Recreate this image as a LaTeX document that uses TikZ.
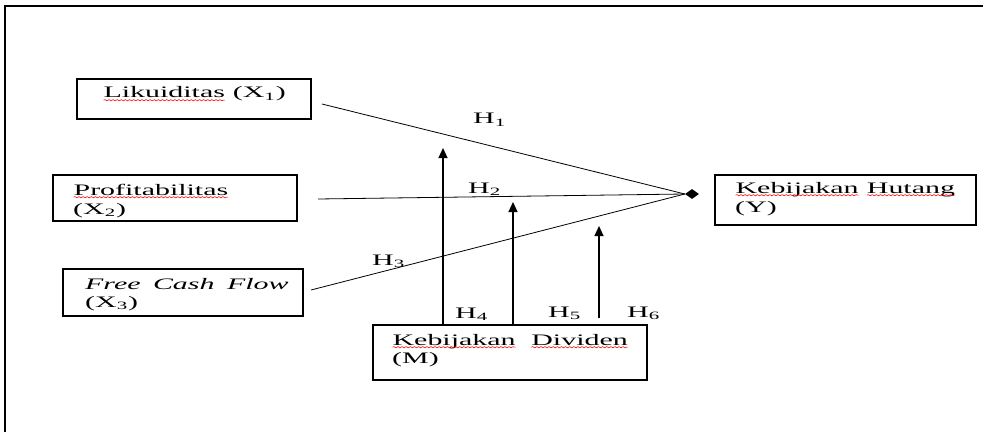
\documentclass[tikz,border=0pt]{standalone}
\usepackage{fontspec}
\setmainfont{Liberation Serif}
\usetikzlibrary{arrows.meta,decorations.pathmorphing,shapes.geometric}
\newcommand\sxt[1]{\scalebox{1.87}[1]{#1}}
\newcommand\sqw[1]{\tikz[baseline=(sqn.base)]{\node[inner sep=0pt,outer sep=0pt] (sqn) {#1};\draw[red,line width=0.45pt,decorate,decoration={snake,amplitude=0.6pt,segment length=2.2pt}] ([yshift=-2.2pt]sqn.base west) -- ([yshift=-2.2pt]sqn.base east);}}
\begin{document}
\begin{tikzpicture}[x=1pt,y=1pt,
  box/.style={draw,line width=1.6pt,inner sep=0pt},
  txt/.style={inner sep=0pt,anchor=base west,font=\fontsize{16}{19}\selectfont},
  conn/.style={line width=0.8pt},
  up/.style={line width=1.2pt,-{Triangle[width=9pt,length=10pt]}}]
\useasboundingbox (0,0) rectangle (983,432);
% frame
\draw[line width=1.8pt] (5,0) -- (5,426) -- (983,426);
% boxes
\node[box,minimum width=234pt,minimum height=40pt] (b1) at (194,333) {};
\node[box,minimum width=244pt,minimum height=46pt] (b2) at (175,234) {};
\node[box,minimum width=240pt,minimum height=47pt] (b3) at (183,139.5) {};
\node[box,minimum width=274pt,minimum height=55pt] (bm) at (510,79.5) {};
\node[box,minimum width=261pt,minimum height=50pt] (by) at (845.5,232) {};
% texts
\node[txt] (t1) at (103,334) {\sxt{\sqw{Likuiditas} (X\textsubscript{1})}};
\node[txt] (t2a) at (73,237) {\sxt{\sqw{Profitabilitas}}};
\node[txt] (t2b) at (73,218) {\sxt{(X\textsubscript{2})}};
\node[txt] (t3a) at (85,143) {\sxt{\itshape Free\, Cash\, Flow}};
\node[txt] (t3b) at (85,125) {\sxt{(X\textsubscript{3})}};
\node[txt] (tma) at (392,87) {\sxt{\sqw{Kebijakan}\ \ \sqw{Dividen}}};
\node[txt] (tmb) at (392,69) {\sxt{(M)}};
\node[txt] (tya) at (735,239) {\sxt{\sqw{Kebijakan} \sqw{Hutang}}};
\node[txt] (tyb) at (735,220) {\sxt{(Y)}};
% diamond
\node[diamond,fill=black,inner sep=0pt,minimum width=14pt,minimum height=10pt] (d) at (692,238) {};
% lines
\coordinate (c1) at (322,328);
\coordinate (c2) at (318,233);
\coordinate (c3) at (311,142);
\draw[conn] (c1) -- (d.west);
\draw[conn] (c2) -- (d.west);
\draw[conn] (c3) -- (d.west);
% arrows
\coordinate (a1t) at (443,284);
\coordinate (a2t) at (513,230);
\coordinate (a3t) at (599,206);
\coordinate (a3b) at (599,114);
\draw[up] (a1t |- bm.north) -- (a1t);
\draw[up] (a2t |- bm.north) -- (a2t);
\draw[up] (a3b) -- (a3t);
% labels
\node[txt] (h1) at (473,308) {\sxt{H\textsubscript{1}}};
\node[txt] (h2) at (468,239) {\sxt{H\textsubscript{2}}};
\node[txt] (h3) at (372,167) {\sxt{H\textsubscript{3}}};
\node[txt] (h4) at (455,114) {\sxt{H\textsubscript{4}}};
\node[txt] (h5) at (548,115) {\sxt{H\textsubscript{5}}};
\node[txt] (h6) at (627,115) {\sxt{H\textsubscript{6}}};
\end{tikzpicture}
\end{document}
